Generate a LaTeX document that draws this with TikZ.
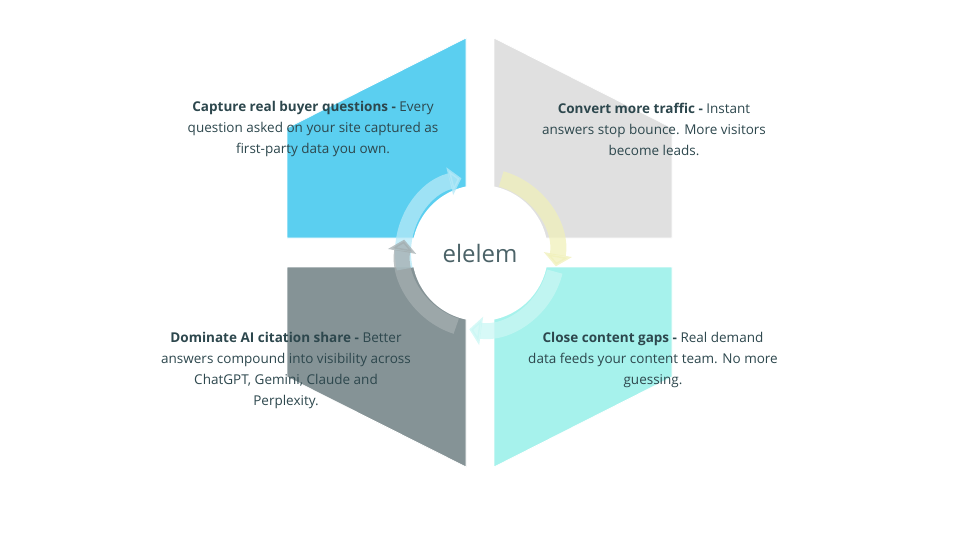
\documentclass[tikz,border=0pt]{standalone}
\usepackage{fontspec}
\setmainfont{Open Sans}
\usetikzlibrary{arrows.meta, positioning}
\definecolor{skyblue}{HTML}{5BCFF0}
\definecolor{lightgrey}{HTML}{E0E0E0}
\definecolor{slategrey}{HTML}{859396}
\definecolor{aqua}{HTML}{A6F2EC}
\definecolor{inkblue}{HTML}{2D474D}
\tikzset{
  piece/.style={draw=white, line width=0.8pt},
  blurb/.style={align=center, text=inkblue, font=\fontsize{13.5}{21}\selectfont, inner sep=0pt},
  cyclearrow/.style={line width=16pt, -{Triangle[width=28pt,length=12pt]}, opacity=0.75}
}
\begin{document}
\begin{tikzpicture}[x=1pt, y=-1pt]
  \useasboundingbox (0,0) rectangle (960,540);
  % four quarters of the hexagon
  \fill[skyblue, piece] (287,128) -- (466,38) -- (466,238) -- (287,238) -- cycle;
  \fill[lightgrey, piece] (494,38) -- (672,128) -- (672,238) -- (494,238) -- cycle;
  \fill[aqua, piece] (494,267) -- (672,267) -- (672,377) -- (494,467) -- cycle;
  \fill[slategrey, piece] (287,267) -- (466,267) -- (466,467) -- (287,377) -- cycle;
  % hub
  \node[circle, fill=white, minimum size=136pt, inner sep=0pt] (hub) at (480,253) {};
  \node[text=inkblue!85, font=\fontsize{24}{24}\selectfont] (logo) at (hub) {elelem};
  % cycle arrows
  \draw[cyclearrow, draw=skyblue!45] (hub.center) ++(-192:77) arc[start angle=-192, end angle=-104, radius=77];
  \draw[cyclearrow, draw=lightgrey!70!yellow!70] (hub.center) ++(-74:77) arc[start angle=-74, end angle=10, radius=77];
  \draw[cyclearrow, draw=aqua!60] (hub.center) ++(14:77) arc[start angle=14, end angle=98, radius=77];
  \draw[cyclearrow, draw=slategrey!75] (hub.center) ++(108:77) arc[start angle=108, end angle=190, radius=77];
  % texts
  \node[blurb] (capture) at (313,129) {\textbf{Capture real buyer questions -} Every\\question asked on your site captured as\\first-party data you own.};
  \node[blurb] (convert) at (654,129) {\textbf{Convert more traffic -} Instant\\answers stop bounce. More visitors\\become leads.};
  \node[blurb] (close) at (653,360) {\textbf{Close content gaps -} Real demand\\data feeds your content team. No more\\guessing.};
  \node[blurb] (dominate) at (286,370) {\textbf{Dominate AI citation share -} Better\\answers compound into visibility across\\ChatGPT, Gemini, Claude and\\Perplexity.};
\end{tikzpicture}
\end{document}
